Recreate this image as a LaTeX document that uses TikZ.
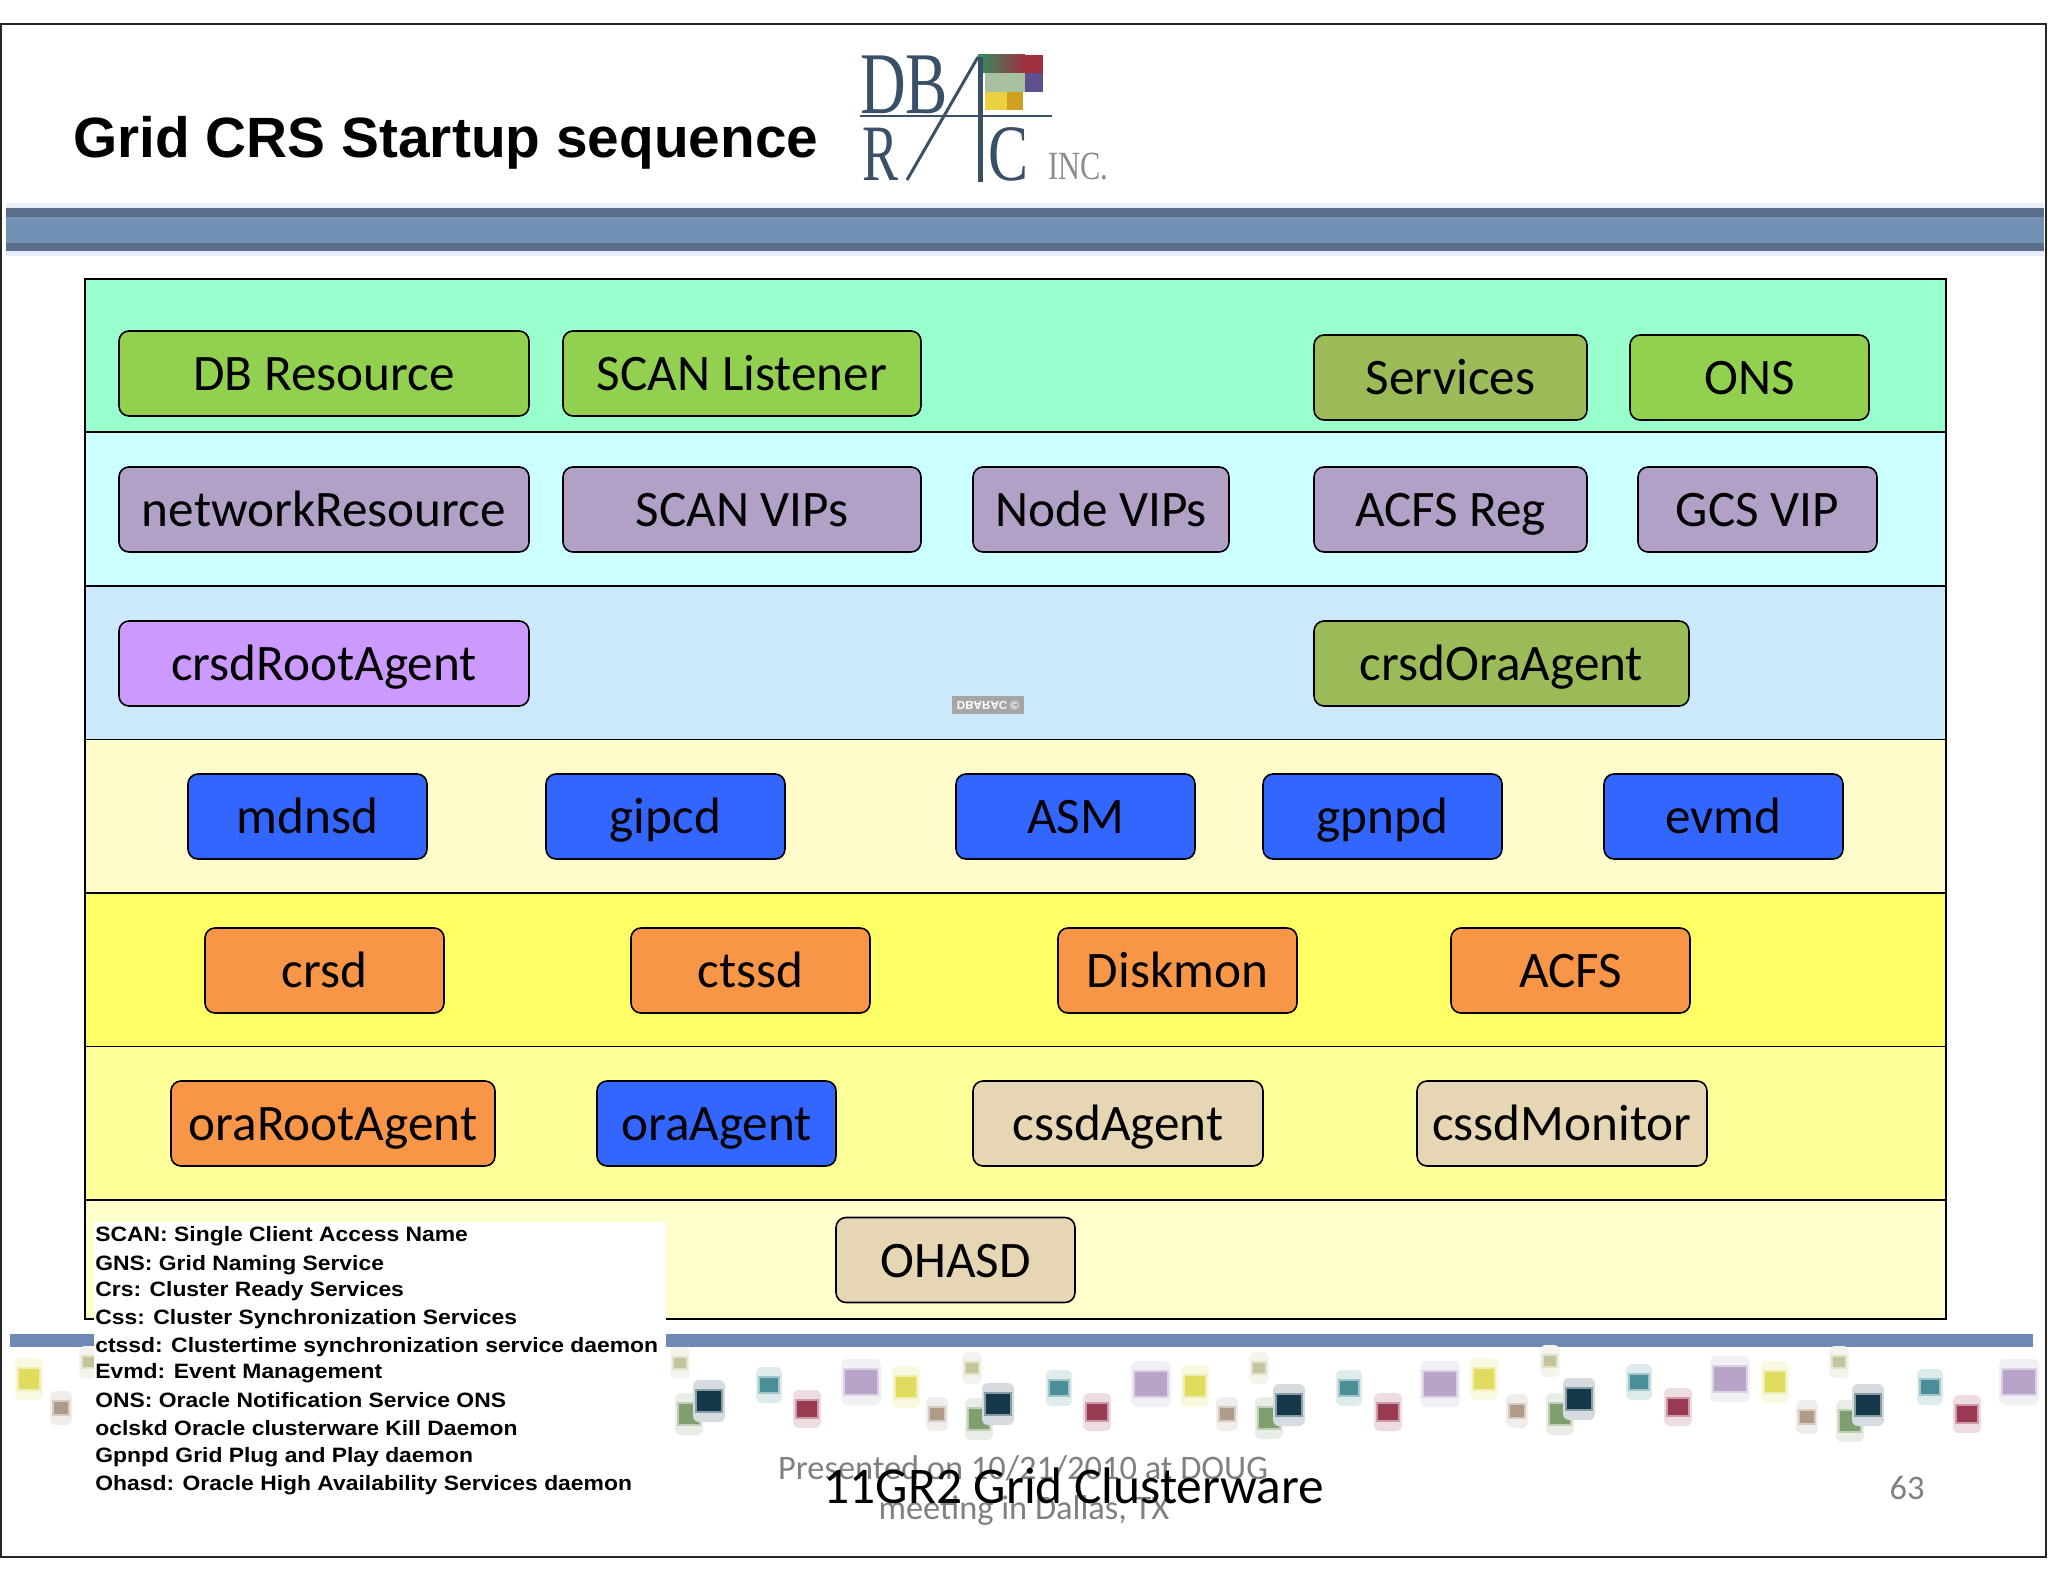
\documentclass[tikz,border=0pt]{standalone}
\usepackage{fontspec}
\setmainfont{Carlito}
\newfontfamily\headfont{Liberation Sans}
\newfontfamily\legendfont[FakeStretch=1.1]{Liberation Sans}
\newfontfamily\logofont{Liberation Serif}
\usepackage{tikz}
\usetikzlibrary{positioning}
\definecolor{barDark}{HTML}{5A6E8C}
\definecolor{barMid}{HTML}{7390B5}
\definecolor{barFoot}{HTML}{7088B4}
\definecolor{barGlow}{HTML}{E6EEF8}
\definecolor{inkLogo}{HTML}{3A5068}
\definecolor{logoRed}{HTML}{A03040}
\definecolor{logoPurple}{HTML}{5F4F8C}
\definecolor{logoGreen}{HTML}{A8BFA0}
\definecolor{logoYellow}{HTML}{EBD040}
\definecolor{logoGold}{HTML}{D0A020}
\definecolor{logoTop}{HTML}{2F8F60}
\definecolor{tealChip}{HTML}{4A8F98}
\definecolor{redChip}{HTML}{9A3A52}
\definecolor{purpleChip}{HTML}{B8A4C8}
\definecolor{yellowChip}{HTML}{E0DC60}
\definecolor{oliveChip}{HTML}{C4C49C}
\definecolor{tanChip}{HTML}{B09A88}
\definecolor{darkChip}{HTML}{15384A}
\definecolor{greenChip}{HTML}{7F9F70}
\definecolor{bandTeal}{HTML}{99FFCC}
\definecolor{bandCyan}{HTML}{CCFFFF}
\definecolor{bandBlue}{HTML}{CCE8FB}
\definecolor{bandCream}{HTML}{FFFCCC}
\definecolor{bandYellow}{HTML}{FFFF66}
\definecolor{bandPale}{HTML}{FFFF99}
\definecolor{bandLast}{HTML}{FFFFCC}
\definecolor{boxGreen}{HTML}{92D050}
\definecolor{boxMoss}{HTML}{9BBB59}
\definecolor{boxLilac}{HTML}{B2A1C7}
\definecolor{boxViolet}{HTML}{CC99FF}
\definecolor{boxBlue}{HTML}{3366FF}
\definecolor{boxOrange}{HTML}{F79646}
\definecolor{boxSand}{HTML}{E6D6B4}
\tikzset{
  band/.style   = {draw, line width=0.9pt, minimum width=930.5pt, inner sep=0pt},
  box/.style    = {draw, line width=0.8pt, rounded corners=5pt, inner sep=0pt, outer sep=0pt,
                   minimum height=42.5pt, text height=17pt, text depth=0pt,
                   font=\fontsize{25.6}{25.6}\selectfont},
  res/.style    = {box, fill=boxGreen},
  moss/.style   = {box, fill=boxMoss},
  lilac/.style  = {box, fill=boxLilac},
  violet/.style = {box, fill=boxViolet},
  daemon/.style = {box, fill=boxBlue},
  agent/.style  = {box, fill=boxOrange},
  sand/.style   = {box, fill=boxSand},
  legend/.style = {anchor=west, inner sep=0pt, text height=7.5pt, text depth=2pt,
                   font=\legendfont\bfseries\fontsize{10.4}{10.4}\selectfont},
  foot/.style   = {inner sep=0pt, text=black!50, font=\fontsize{17.2}{17.2}\selectfont},
  logo/.style   = {inner sep=0pt, text=inkLogo, font=\logofont\fontsize{20}{20}\selectfont,
                   transform shape},
  halo/.style   = {fill=#1!18, rounded corners=3pt},
  chip/.style   = {line width=1.2pt, draw=#1!50, fill=#1}
}
\newcommand{\chips}[4]{%
  \foreach \cx/\cy in {#4} {
    \path[halo=#1] (\cx-#2-3,\cy-#3-10) rectangle (\cx+#2+3,\cy+#3+10);
    \path[chip=#1] (\cx-#2,\cy-#3) rectangle (\cx+#2,\cy+#3);
  }}
\begin{document}
\begin{tikzpicture}[x=0.5pt, y=-0.5pt]
\useasboundingbox (0,0) rectangle (2048,1582);

% slide frame and header bar
\draw[line width=1pt, black!85] (1,24) rectangle (2046,1557);
\fill[barGlow] (6,203) rectangle (2044,256);
\fill[barMid] (6,208) rectangle (2044,251);
\fill[barDark] (6,208) rectangle (2044,217);
\fill[barDark] (6,243) rectangle (2044,251);

\node[anchor=base west, inner sep=0pt, font=\headfont\bfseries\fontsize{28.4}{28.4}\selectfont]
  (title) at (73,158) {Grid CRS Startup sequence};

% logo
\shade[left color=logoTop, right color=logoRed] (978,55) rectangle (1025,73);
\fill[logoRed] (1025,55) rectangle (1043,73);
\fill[logoPurple] (1025,73) rectangle (1043,92);
\fill[logoGreen] (985,73) rectangle (1025,92);
\fill[logoYellow] (985,92) rectangle (1007,110);
\fill[logoGold] (1007,92) rectangle (1023,110);
\node[logo, xscale=1.58, yscale=2.2] (logoDb) at (904,85) {DB};
\node[logo, xscale=1.35, yscale=2.0] (logoR) at (880,154) {R};
\node[logo, xscale=1.5, yscale=2.0] (logoC) at (1008,154) {C};
\node[logo, xscale=0.76, yscale=1.0, text=black!45] (logoInc) at (1078,167) {INC.};
\coordinate (logoA) at (860,116);
\coordinate (logoB) at (1052,116);
\coordinate (logoC1) at (978,57);
\coordinate (logoC2) at (907,180);
\coordinate (logoD1) at (980,57);
\coordinate (logoD2) at (980,182);
\draw[inkLogo, line width=1.2pt] (logoA) -- (logoB);
\draw[inkLogo, line width=1.5pt] (logoC1) -- (logoC2);
\draw[inkLogo, line width=2.5pt] (logoD1) -- (logoD2);

% footer bar and squares
\fill[barFoot] (10,1334) rectangle (2033,1347);
\chips{greenChip}{11}{11}{979/1419,689/1414,1269/1418,1560/1414,1850/1421}
\chips{darkChip}{13}{11}{709/1401,998/1404,1289/1405,1579/1399,1868/1405}
\chips{tealChip}{10}{8}{769/1385,1059/1388,1349/1388,1639/1382,1930/1387}
\chips{redChip}{11}{9}{807/1409,1097/1412,1388/1412,1678/1407,1967/1414}
\chips{purpleChip}{17}{13}{861/1382,1151/1384,1440/1384,1730/1379,2019/1382}
\chips{yellowChip}{11}{11}{29/1379,906/1387,1195/1386,1484/1379,1775/1382}
\chips{oliveChip}{7}{6}{89/1362,680/1363,972/1368,1259/1368,1550/1361,1839/1362}
\chips{tanChip}{8}{7}{61/1408,937/1414,1227/1414,1517/1411,1807/1417}

% the stacked bands
\node[band, fill=bandTeal, minimum height=76.5pt] (bandTop)  at (1015.5,355.75) {};
\node[band, fill=bandCyan, minimum height=77pt]   (bandNet)  at (1015.5,509) {};
\node[band, fill=bandBlue, minimum height=76.75pt] (bandCrsd) at (1015.5,662.75) {};
\node[band, fill=bandCream, minimum height=76.75pt] (bandMd)   at (1015.5,816.25) {};
\node[band, fill=bandYellow, minimum height=76.75pt] (bandOra)  at (1015.5,969.75) {};
\node[band, fill=bandPale, minimum height=76.75pt] (bandAg)   at (1015.5,1123.25) {};
\node[band, fill=bandLast, minimum height=59.5pt] (bandOh)   at (1015.5,1259.5) {};

% first row
\node[res, minimum width=205pt] (dbres) at (324,373.5) {DB Resource};
\node[res, minimum width=179pt, right=17pt of dbres] (scanlsnr) {SCAN Listener};
\node[moss, minimum width=136.5pt] (services) at (1450.5,377.5) {Services};
\node[res, minimum width=119.5pt, right=21.5pt of services] (ons) {ONS};

% second row
\node[lilac, minimum width=205pt] (netres) at (324,509.5) {networkResource};
\node[lilac, minimum width=179pt, right=17pt of netres] (scanvip) {SCAN VIPs};
\node[lilac, minimum width=128pt, right=26pt of scanvip] (nodevip) {Node VIPs};
\node[lilac, minimum width=136.5pt, right=42.5pt of nodevip] (acfsreg) {ACFS Reg};
\node[lilac, minimum width=119.5pt, right=25.5pt of acfsreg] (gcsvip) {GCS VIP};

% third row
\node[violet, minimum width=205pt] (rootagent) at (324,663.5) {crsdRootAgent};
\node[moss, minimum width=187.5pt] (oraagent2) at (1501.5,663.5) {crsdOraAgent};

% fourth row
\node[daemon, minimum width=119.5pt] (mdnsd) at (307.5,816.5) {mdnsd};
\node[daemon, minimum width=119.5pt, right=59.5pt of mdnsd] (gipcd) {gipcd};
\node[daemon, minimum width=119.5pt, right=85.5pt of gipcd] (asm) {ASM};
\node[daemon, minimum width=119.5pt, right=34pt of asm] (gpnpd) {gpnpd};
\node[daemon, minimum width=119.5pt, right=51pt of gpnpd] (evmd) {evmd};

% fifth row
\node[agent, minimum width=119.5pt] (crsd) at (324.5,970.5) {crsd};
\node[agent, minimum width=119.5pt, right=93.5pt of crsd] (ctssd) {ctssd};
\node[agent, minimum width=119.5pt, right=94pt of ctssd] (diskmon) {Diskmon};
\node[agent, minimum width=119.5pt, right=77pt of diskmon] (acfs) {ACFS};

% sixth row
\node[agent, minimum width=162pt] (orarootagent) at (333,1123.5) {oraRootAgent};
\node[daemon, minimum width=119.5pt, right=51pt of orarootagent] (oraagent) {oraAgent};
\node[sand, minimum width=145pt, right=68.5pt of oraagent] (cssdagent) {cssdAgent};
\node[sand, minimum width=145pt, right=77pt of cssdagent] (cssdmonitor) {cssdMonitor};

% last row
\node[sand, minimum width=119.5pt] (ohasd) at (955.5,1260) {OHASD};

% flipped stamp
\node[inner sep=0pt, minimum width=36pt, minimum height=9pt, fill=black!35, text=white,
      font=\headfont\bfseries\fontsize{5.8}{5.8}\selectfont, yscale=-1, transform shape]
  (stamp) at (988,705) {DBARAC ©};

% legend
\fill[white] (94,1222) rectangle (666,1505);
\node[legend] (l1)  at (95,1236) {SCAN: Single Client Access Name};
\node[legend] (l2)  at (95,1265) {GNS:  Grid Naming Service};
\node[legend] (l3)  at (95,1291) {Crs: Cluster Ready Services};
\node[legend] (l4)  at (95,1319) {Css: Cluster Synchronization Services};
\node[legend] (l5)  at (95,1347) {ctssd: Clustertime synchronization service daemon};
\node[legend] (l6)  at (95,1373) {Evmd: Event Management};
\node[legend] (l7)  at (95,1402) {ONS:  Oracle Notification Service ONS};
\node[legend] (l8)  at (95,1430) {oclskd  Oracle clusterware Kill Daemon};
\node[legend] (l9)  at (95,1457) {Gpnpd  Grid Plug and Play daemon};
\node[legend] (l10) at (95,1485) {Ohasd: Oracle High Availability Services daemon};

% footer texts
\node[foot] (pres1) at (1023,1468) {Presented on 10/21/2010 at DOUG};
\node[foot] (pres2) at (1024,1510) {meeting in Dallas, TX};
\node[inner sep=0pt, font=\fontsize{25.7}{25.7}\selectfont] (slidename) at (1074,1486) {11GR2 Grid Clusterware};
\node[foot] (pageno) at (1907,1488) {63};
\end{tikzpicture}
\end{document}
